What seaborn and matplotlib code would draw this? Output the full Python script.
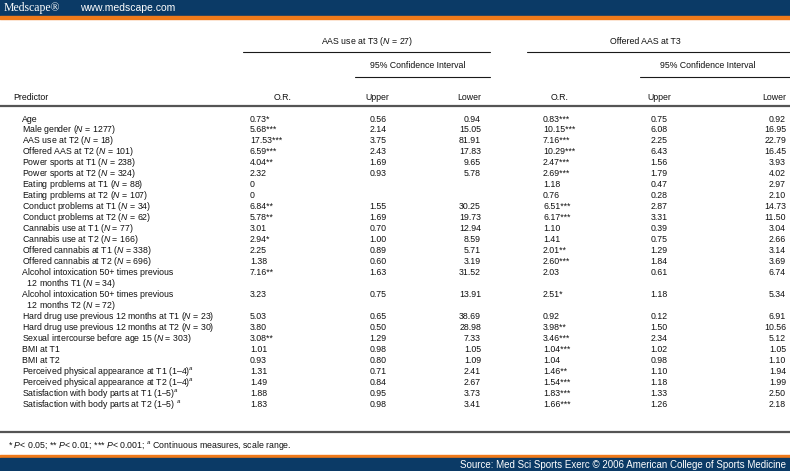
import matplotlib
matplotlib.use("Agg")
import matplotlib.pyplot as plt
import seaborn as sns

sns.set_theme(style="white")
FAM = ["Liberation Sans", "DejaVu Sans"]
plt.rcParams["font.family"] = FAM
plt.rcParams["mathtext.fontset"] = "custom"
plt.rcParams["mathtext.it"] = "Liberation Sans:italic"
plt.rcParams["mathtext.rm"] = "Liberation Sans"

predictors = [
    "Age", r"Male gender ($\it{N}$ = 1277)", r"AAS use at T2 ($\it{N}$ = 18)", r"Offered AAS at T2 ($\it{N}$ = 101)",
    r"Power sports at T1 ($\it{N}$ = 238)", r"Power sports at T2 ($\it{N}$ = 324)", r"Eating problems at T1 ($\it{N}$ = 88)",
    r"Eating problems at T2 ($\it{N}$ = 107)", r"Conduct problems at T1 ($\it{N}$ = 34)", r"Conduct problems at T2 ($\it{N}$ = 62)",
    r"Cannabis use at T1 ($\it{N}$ = 77)", r"Cannabis use at T2 ($\it{N}$ = 166)", r"Offered cannabis at T1 ($\it{N}$ = 338)",
    r"Offered cannabis at T2 ($\it{N}$ = 696)",
    "Alcohol intoxication 50+ times previous\n  12 months T1 ($\\it{N}$ = 34)",
    "Alcohol intoxication 50+ times previous\n  12 months T2 ($\\it{N}$ = 72)",
    r"Hard drug use previous 12 months at T1 ($\it{N}$ = 23)", r"Hard drug use previous 12 months at T2 ($\it{N}$ = 30)",
    r"Sexual intercourse before age 15 ($\it{N}$ = 303)", "BMI at T1", "BMI at T2",
    r"Perceived physical appearance at T1 (1–4)$^a$", r"Perceived physical appearance at T2 (1–4)$^a$",
    r"Satisfaction with body parts at T1 (1–5)$^a$", r"Satisfaction with body parts at T2 (1–5) $^a$",
]
or_aas = ["0.73*", "5.68***", "17.53***", "6.59***", "4.04**", "2.32", "0", "0", "6.84**", "5.78**", "3.01", "2.94*",
          "2.25", "1.38", "7.16**", "3.23", "5.03", "3.80", "3.08**", "1.01", "0.93", "1.31", "1.49", "1.88", "1.83"]
up_aas = ["0.56", "2.14", "3.75", "2.43", "1.69", "0.93", "", "", "1.55", "1.69", "0.70", "1.00", "0.89", "0.60",
          "1.63", "0.75", "0.65", "0.50", "1.29", "0.98", "0.80", "0.71", "0.84", "0.95", "0.98"]
lo_aas = ["0.94", "15.05", "81.91", "17.83", "9.65", "5.78", "", "", "30.25", "19.73", "12.94", "8.59", "5.71", "3.19",
          "31.52", "13.91", "38.69", "28.98", "7.33", "1.05", "1.09", "2.41", "2.67", "3.73", "3.41"]
or_off = ["0.83***", "10.15***", "7.16***", "10.29***", "2.47***", "2.69***", "1.18", "0.76", "6.51***", "6.17***",
          "1.10", "1.41", "2.01**", "2.60***", "2.03", "2.51*", "0.92", "3.98**", "3.46***", "1.04***", "1.04",
          "1.46**", "1.54***", "1.83***", "1.66***"]
up_off = ["0.75", "6.08", "2.25", "6.43", "1.56", "1.79", "0.47", "0.28", "2.87", "3.31", "0.39", "0.75", "1.29",
          "1.84", "0.61", "1.18", "0.12", "1.50", "2.34", "1.02", "0.98", "1.10", "1.18", "1.33", "1.26"]
lo_off = ["0.92", "16.95", "22.79", "16.45", "3.93", "4.02", "2.97", "2.10", "14.73", "11.50", "3.04", "2.66", "3.14",
          "3.69", "6.74", "5.34", "6.91", "10.56", "5.12", "1.05", "1.10", "1.94", "1.99", "2.50", "2.18"]

NAVY = "#0b3a66"
ORANGE = "#f07a1a"
fig = plt.figure(figsize=(7.9, 4.71), dpi=100)
ax = fig.add_axes([0, 0, 1, 1])
ax.set_xlim(0, 790); ax.set_ylim(471, 0); ax.axis("off")

ax.fill_between([0, 790], 0, 16, color=NAVY)
ax.fill_between([0, 790], 16, 18.5, color=ORANGE)
ax.fill_between([0, 790], 455, 458, color=ORANGE)
ax.fill_between([0, 790], 458, 471, color=NAVY)
ax.text(4, 8, "Medscape®", color="white", fontsize=8.5, family="Liberation Serif", va="center")
ax.text(80, 8, "www.medscape.com", color="white", fontsize=7.5, family="Liberation Sans", va="center")
ax.text(786, 464.5, "Source: Med Sci Sports Exerc © 2006 American College of Sports Medicine", color="white",
        fontsize=7, family="Liberation Sans", va="center", ha="right")

fs = 6.3
def t(x, y, s, ha="left", **kw):
    ax.text(x, y, s, ha=ha, va="center", fontsize=fs, color="#111111", **kw)

t(367, 42, r"AAS use at T3 ($\it{N}$ = 27)", ha="center")
t(645, 42, "Offered AAS at T3", ha="center")
ax.plot([243, 490], [52, 52], color="k", lw=0.8)
ax.plot([527, 790], [52, 52], color="k", lw=0.8)
t(418, 66, "95% Confidence Interval", ha="center")
t(708, 66, "95% Confidence Interval", ha="center")
ax.plot([355, 490], [77, 77], color="k", lw=0.8)
ax.plot([640, 790], [77, 77], color="k", lw=0.8)
t(13, 98, "Predictor"); t(283, 98, "O.R.", ha="center"); t(377, 98, "Upper", ha="center")
t(481, 98, "Lower", ha="right"); t(560, 98, "O.R.", ha="center"); t(659, 98, "Upper", ha="center")
t(786, 98, "Lower", ha="right")
ax.plot([0, 790], [106, 106], color="#555555", lw=1.6)

step = 10.97
y = 119
for i, p in enumerate(predictors):
    t(22, y, p.split("\n")[0])
    t(250, y, or_aas[i]); t(378, y, up_aas[i], ha="center"); t(481, y, lo_aas[i], ha="right")
    t(543, y, or_off[i]); t(659, y, up_off[i], ha="center"); t(786, y, lo_off[i], ha="right")
    if "\n" in p:
        y += step
        t(22, y, p.split("\n")[1])
    y += step
ax.plot([0, 790], [432, 432], color="#555555", lw=1.6)
t(8, 446, r"* $\it{P}$< 0.05; ** $\it{P}$< 0.01; *** $\it{P}$< 0.001; $^a$ Continuous measures, scale range.")

fig.savefig("out.png", dpi=100, facecolor="white")
